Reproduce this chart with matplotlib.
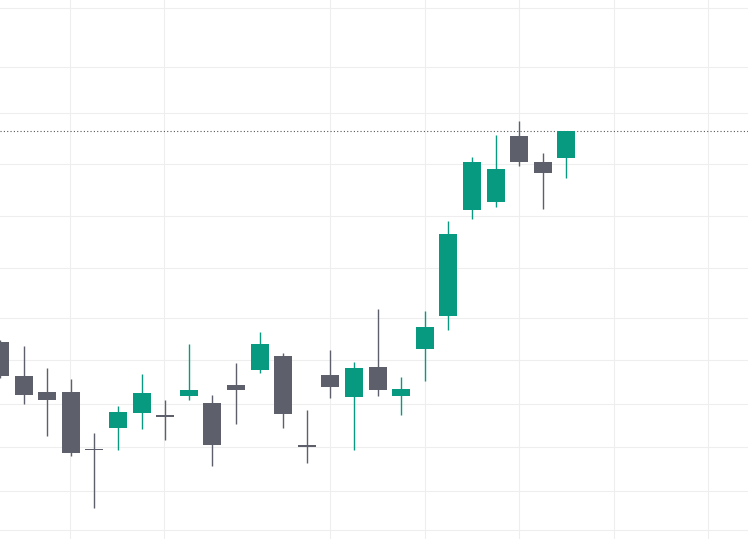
import numpy as np
import matplotlib.pyplot as plt

# price values (chart units, higher = up)
opens  = [197, 163, 147, 147,  90, 111, 126, 124, 143, 136, 154, 169, 183,  94, 164, 142, 172, 143, 190, 223, 329, 337, 403, 377, 381]
closes = [163, 144, 139,  86,  89, 127, 146, 122, 149,  94, 149, 195, 125,  92, 152, 171, 149, 150, 212, 305, 377, 370, 377, 366, 408]
highs  = [199, 193, 171, 160, 106, 133, 165, 139, 195, 144, 176, 207, 186, 129, 189, 177, 230, 162, 228, 318, 382, 404, 418, 386, 408]
lows   = [161, 135, 103,  83,  31,  89, 110,  99, 139,  73, 115, 166, 111,  76, 141,  89, 143, 124, 158, 209, 320, 332, 373, 330, 361]

vgrid = [2.97, 6.95, 14.0, 18.0, 22.0, 26.0, 30.0]
hgrid = [9, 48, 92, 135, 179, 221, 271, 323, 375, 426, 472, 531]

green = '#089981'
gray = '#5d606b'

fig = plt.figure(figsize=(7.48, 5.39), dpi=100)
ax = fig.add_axes([0, 0, 1, 1])
for v in vgrid:
    ax.axvline(v, color='#eeeeee', lw=0.8, zorder=0)
for h in hgrid:
    ax.axhline(h, color='#eeeeee', lw=0.8, zorder=0)

for i, (o, c, h, l) in enumerate(zip(opens, closes, highs, lows)):
    col = green if c >= o else gray
    ax.vlines(i, l, h, color=col, lw=1, zorder=2)
    lo, hi = min(o, c), max(o, c)
    ax.bar(i, max(hi - lo, 1.5), bottom=lo, width=0.76, color=col, zorder=3)

ax.axhline(closes[-1], color='#555555', lw=0.8, ls=(0, (1, 2)), zorder=1)

ax.set_xlim(0, 748 / 23.6)
ax.set_ylim(0, 539)
ax.axis('off')
fig.savefig('out.png', dpi=100)
